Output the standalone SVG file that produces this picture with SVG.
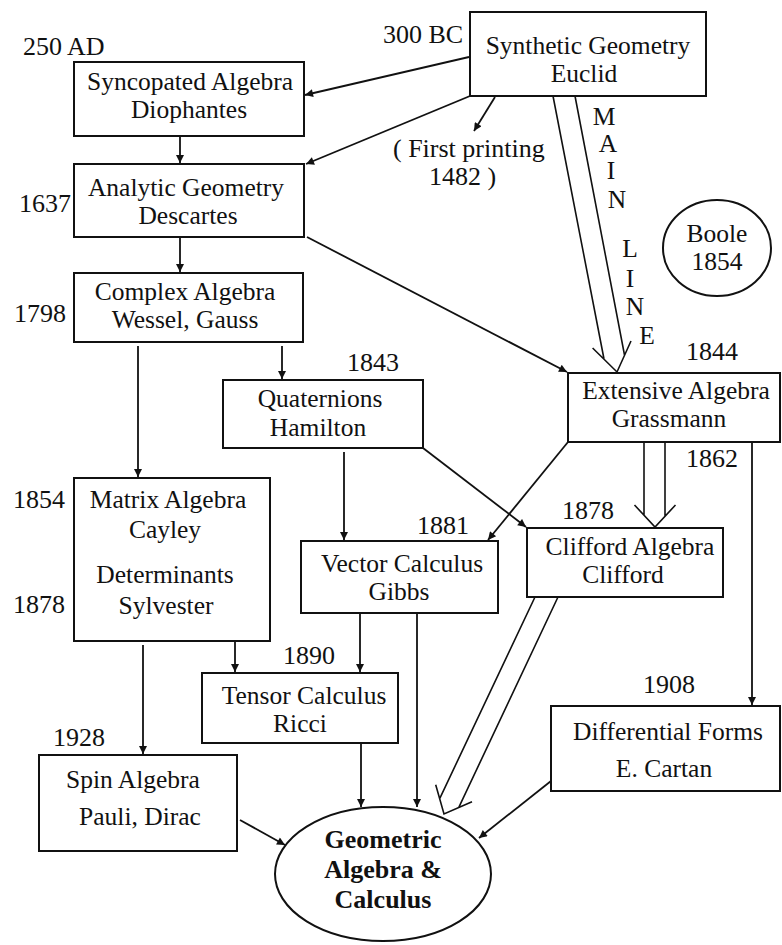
<svg xmlns="http://www.w3.org/2000/svg" width="782" height="945" viewBox="0 0 782 945">
<style>
  .box { fill: #ffffff; stroke: #111; stroke-width: 2; }
  .t { font-family: "Liberation Serif", "Times New Roman", serif; font-size: 25.5px; fill: #111; text-anchor: middle; }
  .lbl { font-family: "Liberation Serif", "Times New Roman", serif; font-size: 26px; fill: #111; }
  .b { font-weight: bold; font-size: 26px; }
  .c { fill: none; stroke: #111; stroke-width: 1.8; }
  .d { fill: none; stroke: #111; stroke-width: 1.6; }
</style>
<defs>
  <marker id="ah" viewBox="0 0 10 10" refX="10" refY="5" markerWidth="10" markerHeight="8" markerUnits="userSpaceOnUse" orient="auto">
    <path d="M0,0 L10,5 L0,10 Z" fill="#111"/>
  </marker>
</defs>
<rect width="782" height="945" fill="#ffffff"/>

<g id="connectors">
  <line class="c" x1="469" y1="57" x2="305" y2="95" marker-end="url(#ah)"/>
  <line class="c" x1="470" y1="96" x2="306" y2="164" marker-end="url(#ah)"/>
  <line class="c" x1="495" y1="97" x2="474" y2="131" marker-end="url(#ah)"/>
  <line class="c" x1="180" y1="137" x2="180" y2="163" marker-end="url(#ah)"/>
  <line class="c" x1="180" y1="238" x2="180" y2="272" marker-end="url(#ah)"/>
  <line class="c" x1="307" y1="237" x2="567" y2="372" marker-end="url(#ah)"/>
  <line class="c" x1="138" y1="346" x2="138" y2="477" marker-end="url(#ah)"/>
  <line class="c" x1="282" y1="346" x2="282" y2="379" marker-end="url(#ah)"/>
  <line class="c" x1="344" y1="452" x2="344" y2="540" marker-end="url(#ah)"/>
  <line class="c" x1="423" y1="448" x2="526" y2="527" marker-end="url(#ah)"/>
  <line class="c" x1="568" y1="442" x2="488" y2="540" marker-end="url(#ah)"/>
  <line class="c" x1="752" y1="442" x2="752" y2="705" marker-end="url(#ah)"/>
  <line class="c" x1="143" y1="645" x2="143" y2="754" marker-end="url(#ah)"/>
  <line class="c" x1="235" y1="642" x2="235" y2="672" marker-end="url(#ah)"/>
  <line class="c" x1="360" y1="614" x2="360" y2="672" marker-end="url(#ah)"/>
  <line class="c" x1="417" y1="614" x2="417" y2="807" marker-end="url(#ah)"/>
  <line class="c" x1="361" y1="744" x2="361" y2="807" marker-end="url(#ah)"/>
  <line class="c" x1="240" y1="820" x2="285" y2="845" marker-end="url(#ah)"/>
  <line class="c" x1="551" y1="781" x2="479" y2="838" marker-end="url(#ah)"/>
  <!-- MAIN LINE double arrow -->
  <path class="d" d="M553,96 L604,359 M575,96 L624.5,355 M592.6,348 L617,372 L631,341"/>
  <!-- Extensive to Clifford double arrow -->
  <path class="d" d="M644,442 L644,515 M665,442 L665,516 M634.5,505 L655,527 L675.5,505"/>
  <!-- Clifford to Geometric double arrow -->
  <path class="d" d="M535,597 L439.7,798.6 M558,597 L458.7,807.6 M435.7,784.7 L444,814 L472,801.7"/>
</g>

<g id="euclid">
  <rect class="box" x="470" y="12" width="236" height="84"/>
  <text class="t" x="588" y="54">Synthetic Geometry</text>
  <text class="t" x="584" y="82">Euclid</text>
</g>
<g id="diophantes">
  <rect class="box" x="74" y="62" width="230" height="74"/>
  <text class="t" x="190" y="90">Syncopated Algebra</text>
  <text class="t" x="189" y="118">Diophantes</text>
</g>
<g id="descartes">
  <rect class="box" x="74" y="164" width="230" height="73"/>
  <text class="t" x="186" y="196">Analytic Geometry</text>
  <text class="t" x="188" y="224">Descartes</text>
</g>
<g id="complex">
  <rect class="box" x="74" y="273" width="229" height="69"/>
  <text class="t" x="185" y="300">Complex Algebra</text>
  <text class="t" x="185" y="328">Wessel, Gauss</text>
</g>
<g id="matrix">
  <rect class="box" x="74" y="478" width="196" height="163"/>
  <text class="t" x="168" y="508">Matrix Algebra</text>
  <text class="t" x="165" y="538">Cayley</text>
  <text class="t" x="165" y="583">Determinants</text>
  <text class="t" x="166" y="614">Sylvester</text>
</g>
<g id="quaternions">
  <rect class="box" x="223" y="380" width="200" height="68"/>
  <text class="t" x="320" y="407">Quaternions</text>
  <text class="t" x="318" y="436">Hamilton</text>
</g>
<g id="extensive">
  <rect class="box" x="568" y="373" width="212" height="69"/>
  <text class="t" x="676" y="399">Extensive Algebra</text>
  <text class="t" x="669" y="427">Grassmann</text>
</g>
<g id="vector">
  <rect class="box" x="301" y="541" width="197" height="72"/>
  <text class="t" x="402" y="572">Vector Calculus</text>
  <text class="t" x="399" y="600">Gibbs</text>
</g>
<g id="clifford">
  <rect class="box" x="527" y="528" width="196" height="69"/>
  <text class="t" x="630" y="555">Clifford Algebra</text>
  <text class="t" x="623" y="583">Clifford</text>
</g>
<g id="tensor">
  <rect class="box" x="202" y="673" width="196" height="70"/>
  <text class="t" x="304" y="704">Tensor Calculus</text>
  <text class="t" x="300" y="732">Ricci</text>
</g>
<g id="spin">
  <rect class="box" x="39" y="755" width="198" height="96"/>
  <text class="t" x="133" y="788">Spin Algebra</text>
  <text class="t" x="140" y="825">Pauli, Dirac</text>
</g>
<g id="cartan">
  <rect class="box" x="551" y="706" width="229" height="85"/>
  <text class="t" x="668" y="740">Differential Forms</text>
  <text class="t" x="664" y="777">E. Cartan</text>
</g>
<g id="geometric">
  <ellipse class="box" cx="383" cy="874" rx="108" ry="67"/>
  <text class="t b" x="383" y="848">Geometric</text>
  <text class="t b" x="383" y="878">Algebra &amp;</text>
  <text class="t b" x="383" y="908">Calculus</text>
</g>
<g id="boole">
  <ellipse class="box" cx="717" cy="248" rx="54" ry="48"/>
  <text class="t" x="717" y="242">Boole</text>
  <text class="t" x="717" y="270">1854</text>
</g>

<g id="labels">
  <text class="lbl" x="23" y="55">250 AD</text>
  <text class="lbl" x="383" y="43">300 BC</text>
  <text class="lbl" x="19" y="212">1637</text>
  <text class="lbl" x="14" y="322">1798</text>
  <text class="lbl" x="13" y="508">1854</text>
  <text class="lbl" x="13" y="613">1878</text>
  <text class="lbl" x="347" y="371">1843</text>
  <text class="lbl" x="686" y="360">1844</text>
  <text class="lbl" x="686" y="467">1862</text>
  <text class="lbl" x="562" y="519">1878</text>
  <text class="lbl" x="417" y="534">1881</text>
  <text class="lbl" x="283" y="664">1890</text>
  <text class="lbl" x="643" y="693">1908</text>
  <text class="lbl" x="53" y="746">1928</text>
  <text class="lbl" x="393" y="157">( First printing</text>
  <text class="lbl" x="429" y="185">1482 )</text>
  <text class="t" x="604" y="125">M</text>
  <text class="t" x="608" y="152">A</text>
  <text class="t" x="611" y="179">I</text>
  <text class="t" x="617" y="208">N</text>
  <text class="t" x="630" y="257">L</text>
  <text class="t" x="630" y="287">I</text>
  <text class="t" x="635" y="315">N</text>
  <text class="t" x="647" y="344">E</text>
</g>
</svg>
